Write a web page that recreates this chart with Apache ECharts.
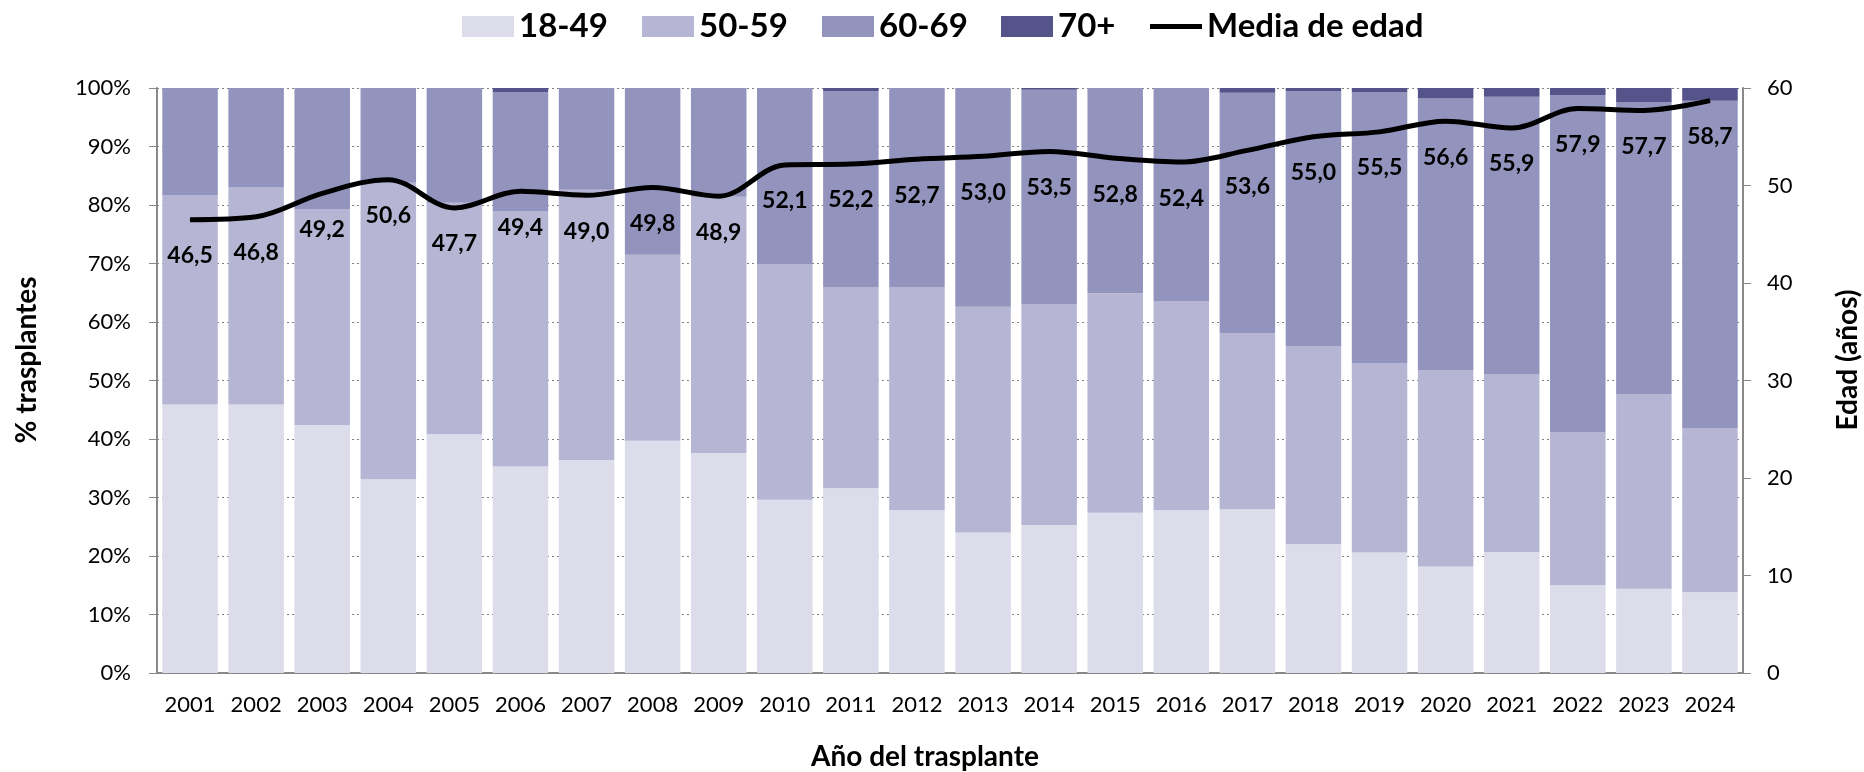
<!DOCTYPE html>
<html>
<head>
<meta charset="utf-8">
<script src="https://cdn.jsdelivr.net/npm/echarts@6/dist/echarts.min.js"></script>
<style>
  html, body { margin: 0; padding: 0; background: #fff; }
  #main { width: 1864px; height: 772px; }
</style>
</head>
<body>
<div id="main"></div>
<script type="text/javascript">
    var years = ['2001','2002','2003','2004','2005','2006','2007','2008','2009','2010','2011','2012',
                 '2013','2014','2015','2016','2017','2018','2019','2020','2021','2022','2023','2024'];
    // % de trasplantes por grupo de edad
    var g1849 = [45.9,45.9,42.4,33.1,40.8,35.3,36.4,39.7,37.6,29.6,31.6,27.8,24.0,25.3,27.4,27.8,28.0,22.0,20.6,18.2,20.7,15.0,14.4,13.8];
    var g5059 = [35.8,37.1,36.9,50.7,39.6,43.6,46.2,31.8,43.8,40.3,34.4,38.2,38.6,37.7,37.5,35.8,30.1,33.9,32.4,33.6,30.4,26.2,33.3,28.1];
    var g6069 = [18.3,17.0,20.7,16.2,19.6,20.4,17.4,28.5,18.6,30.1,33.5,34.0,37.4,36.7,35.1,36.4,41.1,43.6,46.3,46.4,47.4,57.6,49.9,55.9];
    var g70 = [0,0,0,0,0,0.7,0,0,0,0,0.5,0,0,0.3,0,0,0.8,0.5,0.7,1.8,1.5,1.2,2.4,2.2];
    // media de edad (años)
    var mediaEdad = [46.5,46.8,49.2,50.6,47.7,49.4,49.0,49.8,48.9,52.1,52.2,52.7,53.0,53.5,52.8,52.4,53.6,55.0,55.5,56.6,55.9,57.9,57.7,58.7];

    var fontFam = 'Lato';
    var axisGray = '#898989';
    var titleStyle = {fontFamily: fontFam, fontSize: 28, fontWeight: 'bold', fill: '#000',
                      textAlign: 'center', textVerticalAlign: 'middle'};

    function barSerie(name, data, color){
        return {
            name: name,
            type: 'bar',
            stack: 'total',
            yAxisIndex: 0,
            barCategoryGap: '16%',
            itemStyle: {color: color},
            data: data
        };
    }

    // una leyenda por elemento, para colocarlas como en el original
    function legendItem(name, left, icon){
        return {
            left: left,
            top: 5,
            itemWidth: 52,
            itemHeight: 21,
            itemGap: 0,
            textStyle: {fontFamily: fontFam, fontSize: 33, fontWeight: 'bold', color: '#000'},
            data: [{name: name, icon: icon}]
        };
    }

    var myChart = echarts.init(document.getElementById('main'));
    var myOption = {
        animation: false,
        textStyle: {fontFamily: fontFam},
        grid: {left: 157, right: 121, top: 88, bottom: 99},
        legend: [
            legendItem('18-49', 457, 'rect'),
            legendItem('50-59', 637, 'rect'),
            legendItem('60-69', 817, 'rect'),
            legendItem('70+', 996, 'rect'),
            legendItem('Media de edad', 1145, 'path://M0,0 L52,0 L52,5 L0,5 Z')
        ],
        graphic: [
            {type: 'text', x: 27, y: 360, rotation: Math.PI / 2,
             style: Object.assign({text: '% trasplantes'}, titleStyle)},
            {type: 'text', x: 1848, y: 360, rotation: Math.PI / 2,
             style: Object.assign({text: 'Edad (años)'}, titleStyle)},
            {type: 'text', x: 925, y: 757,
             style: Object.assign({text: 'Año del trasplante'}, titleStyle)}
        ],
        xAxis: {
            type: 'category',
            data: years,
            axisLine: {lineStyle: {color: axisGray, width: 2}},
            axisTick: {length: 8, lineStyle: {color: axisGray}},
            axisLabel: {fontFamily: fontFam, fontSize: 22, color: '#000', margin: 21, interval: 0}
        },
        yAxis: [
            {
                type: 'value',
                min: 0, max: 100, interval: 10,
                axisLine: {show: true, lineStyle: {color: axisGray, width: 2}},
                axisTick: {show: true, length: 8, lineStyle: {color: axisGray}},
                axisLabel: {fontFamily: fontFam, fontSize: 22, color: '#000', margin: 26, formatter: '{value}%'},
                splitLine: {show: true, lineStyle: {color: '#7f7f7f', type: [2, 3], width: 1}}
            },
            {
                type: 'value',
                min: 0, max: 60, interval: 10,
                axisLine: {show: true, lineStyle: {color: axisGray, width: 2}},
                axisTick: {show: true, length: 8, lineStyle: {color: axisGray}},
                axisLabel: {fontFamily: fontFam, fontSize: 22, color: '#000', margin: 24},
                splitLine: {show: false}
            }
        ],
        series: [
            barSerie('18-49', g1849, '#DCDCEB'),
            barSerie('50-59', g5059, '#B6B6D4'),
            barSerie('60-69', g6069, '#9394BD'),
            barSerie('70+', g70, '#54548A'),
            {
                name: 'Media de edad',
                type: 'line',
                yAxisIndex: 1,
                smooth: 0.35,
                symbol: 'circle',
                symbolSize: 1,
                z: 10,
                itemStyle: {color: '#000'},
                lineStyle: {color: '#000', width: 5},
                label: {
                    show: true,
                    position: 'bottom',
                    distance: 24,
                    fontFamily: fontFam,
                    fontSize: 23,
                    fontWeight: 'bold',
                    color: '#000',
                    formatter: function(p){ return p.value.toFixed(1).replace('.', ','); }
                },
                data: mediaEdad
            }
        ]
    };
    myChart.setOption(myOption);
</script>
</body>
</html>
